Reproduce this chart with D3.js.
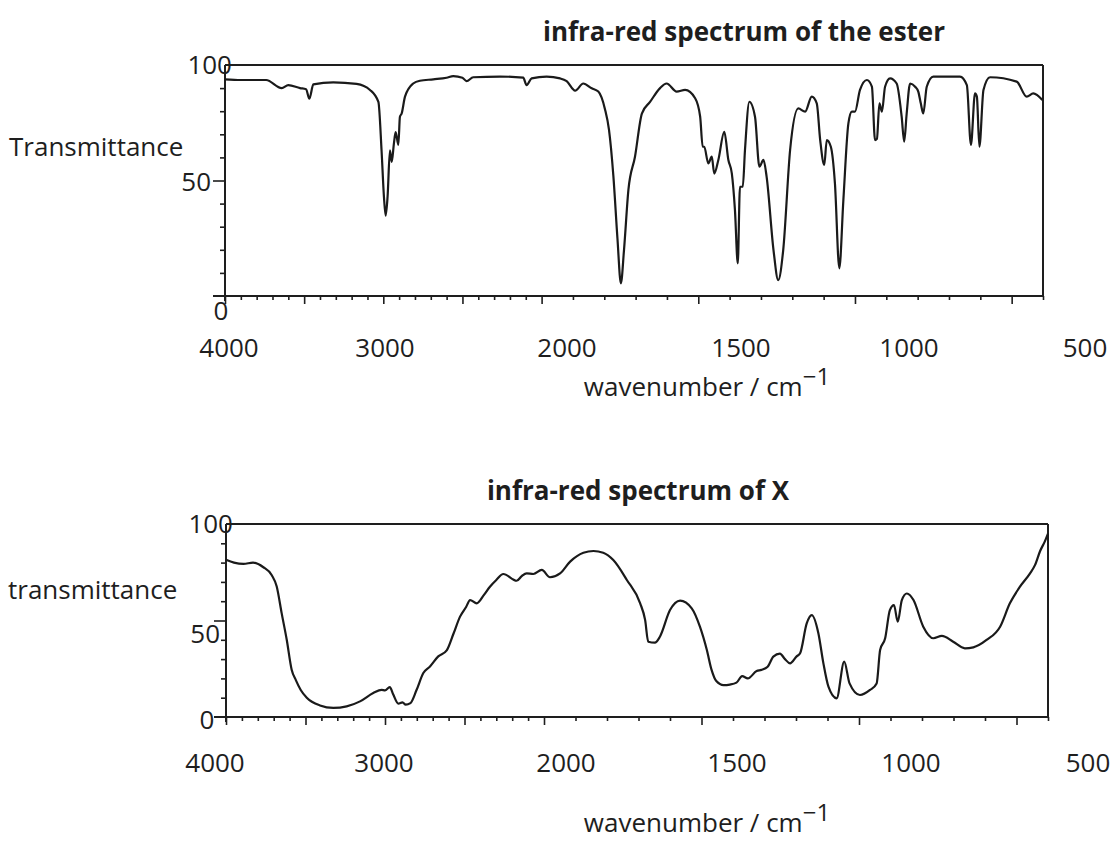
<!DOCTYPE html>
<html>
<head>
  <title>IR spectra</title>
  <script src="https://d3js.org/d3.v7.min.js"></script>
  <style>
    body { margin: 0; background: #fff; }
    text { font-family: "Open Sans", sans-serif; fill: #1e1e1e; }
  </style>
</head>
<body>
<svg width="1112" height="843"></svg>
<script>
  // [wavenumber / cm-1, transmittance]
  const esterSpectrum = [
    [4000, 93.8], [3900, 93.5], [3740, 93.5], [3642, 90], [3600, 91.3], [3526, 90], [3488, 89.5],
    [3467, 85.4], [3442, 91.6], [3316, 92.5], [3169, 91.8], [3084, 89.2], [3031, 84], [3011, 63],
    [2996, 43], [2985, 34.8], [2973, 43], [2958, 63], [2947, 58], [2933, 66], [2922, 71], [2905, 65.4],
    [2895, 77.6], [2884, 79], [2863, 86.3], [2811, 92], [2769, 93.2], [2684, 93.8], [2600, 94.5],
    [2558, 95.2], [2500, 94.5], [2474, 93], [2432, 94.7], [2263, 95], [2116, 94.5], [2095, 91.3],
    [2063, 94.2], [1984, 95], [1941, 94.2], [1920, 93], [1893, 88.9], [1867, 92], [1840, 89.9],
    [1819, 88.5], [1798, 81], [1785, 72], [1771, 52], [1758, 25], [1747, 5.5], [1737, 20], [1723, 45.9],
    [1702, 60.3], [1680, 79], [1654, 84], [1622, 90], [1601, 92], [1569, 88.5], [1542, 89.2],
    [1510, 85.6], [1494, 77.6], [1486, 64.6], [1481, 64.6], [1468, 57.4], [1457, 60.3], [1449, 53],
    [1436, 58.9], [1417, 71.1], [1404, 58.9], [1393, 53.1], [1383, 37.2], [1374, 14.1], [1367, 47.3],
    [1358, 47.3], [1351, 63.2], [1337, 84.1], [1319, 77.6], [1305, 56], [1292, 58.9], [1282, 51.7],
    [1260, 19.9], [1245, 6.9], [1229, 19.9], [1207, 63.2], [1181, 81.2], [1159, 79.8], [1138, 86.3],
    [1122, 83.4], [1111, 67.5], [1098, 56.7], [1090, 67.5], [1077, 64.6], [1064, 48.8], [1050, 12],
    [1037, 41.6], [1021, 74.7], [1010, 79.8], [1000, 79.8], [984, 89.2], [962, 93.5], [946, 90.6],
    [936, 67.5], [930, 68], [922, 83.4], [914, 79.8], [904, 90.6], [888, 94.2], [867, 92], [851, 77.6],
    [843, 66.8], [835, 79], [824, 92], [808, 90.6], [798, 88.5], [790, 83.4], [782, 79], [771, 90.6],
    [750, 95], [665, 95], [643, 91.3], [630, 65.4], [617, 87.7], [611, 86.3], [603, 64.6], [590, 89.2],
    [569, 94.7], [484, 92.8], [452, 86.3], [431, 87.7], [402, 84.8]
  ];

  const xSpectrum = [
    [4000, 81.5], [3950, 80], [3890, 79.3], [3830, 80], [3765, 77.6], [3713, 73.6], [3681, 67.6],
    [3650, 53.8], [3618, 40], [3587, 24.5], [3560, 19], [3530, 14], [3492, 10], [3409, 6], [3325, 4.7],
    [3241, 5.5], [3157, 8.1], [3074, 12.4], [3021, 14.1], [3000, 13.8], [2970, 15.5], [2948, 11.6],
    [2916, 6.9], [2890, 7.6], [2870, 6.4], [2840, 7.2], [2801, 14.1], [2759, 22.8], [2717, 26.2],
    [2665, 31.4], [2612, 34.5], [2570, 43], [2528, 52], [2490, 57], [2465, 60.6], [2423, 58.9],
    [2380, 63], [2340, 67.5], [2300, 71], [2256, 74.1], [2172, 70.6], [2140, 73], [2109, 74.4],
    [2067, 74.1], [2014, 76.2], [1981, 72.4], [1949, 74.4], [1917, 80.5], [1875, 85.1], [1843, 86],
    [1812, 85.1], [1780, 81.3], [1737, 71], [1695, 59], [1679, 50.3], [1669, 39], [1648, 38.5],
    [1632, 41.6], [1600, 55.4], [1568, 60.3], [1531, 56.3], [1505, 46.8], [1483, 34.7], [1468, 24.4],
    [1453, 18.6], [1430, 16.5], [1410, 16.8], [1389, 17.8], [1371, 21.2], [1353, 20], [1325, 23.8],
    [1310, 24.4], [1290, 26], [1272, 31.3], [1251, 32.8], [1235, 30], [1219, 27.8], [1198, 31.4],
    [1187, 33], [1166, 48.5], [1150, 52.8], [1129, 43.4], [1113, 27.8], [1097, 15.7], [1071, 9.7],
    [1047, 28.7], [1030, 17.4], [997, 11.4], [965, 14], [944, 17.4], [933, 34.7], [917, 40.8],
    [902, 55.4], [889, 58], [877, 49.4], [864, 60.6], [848, 64], [827, 60.6], [796, 46.8], [764, 40.8],
    [737, 42], [701, 39], [664, 35.6], [637, 36.1], [595, 39.9], [552, 46.8], [521, 58.9], [489, 67.5],
    [457, 74.4], [441, 78.8], [425, 86], [410, 91], [400, 95]
  ];

  const wavenumberBreaks = [4000, 2000, 400];
  const minorTicks = d3.range(4000, 399, -100);
  const majorTicks = [4000, 3500, 3000, 2500, 2000, 1500, 1000, 500];
  const tickLabels = [4000, 3000, 2000, 1500, 1000, 500];
  const yTicks = d3.range(10, 101, 10);

  const svg = d3.select("svg");

  function drawSpectrum(o) {
    const x = d3.scaleLinear().domain(wavenumberBreaks).range([o.left, o.mid, o.right]);
    const y = d3.scaleLinear().domain([0, 100]).range([o.bottom, o.top]);
    // the typed label row of the original has its own spacing, not the axis one
    const labelX = d3.scaleOrdinal().domain(tickLabels).range(o.labelPos);
    const g = svg.append("g");

    g.append("text")
            .attr("x", o.titleX).attr("y", o.titleY)
            .attr("text-anchor", "middle")
            .attr("font-size", 26).attr("font-weight", "bold")
            .text(o.title);

    // ticks
    g.append("g")
            .attr("transform", "translate(0," + o.bottom + ")")
            .call(d3.axisBottom(x).tickValues(minorTicks.filter(v => !majorTicks.includes(v)))
                    .tickSize(4).tickSizeOuter(0).tickFormat(""))
            .call(a => a.select(".domain").remove());
    g.append("g")
            .attr("transform", "translate(0," + o.bottom + ")")
            .call(d3.axisBottom(x).tickValues(majorTicks).tickSize(8).tickSizeOuter(0).tickFormat(""))
            .call(a => a.select(".domain").remove());
    g.append("g")
            .attr("transform", "translate(" + o.left + ",0)")
            .call(d3.axisLeft(y).tickValues(yTicks.filter(v => v !== 50 && v !== 100))
                    .tickSize(5).tickSizeOuter(0).tickFormat(""))
            .call(a => a.select(".domain").remove());
    g.append("g")
            .attr("transform", "translate(" + o.left + ",0)")
            .call(d3.axisLeft(y).tickValues([50]).tickSize(12).tickSizeOuter(0).tickFormat(""))
            .call(a => a.select(".domain").remove());
    g.selectAll(".tick line").attr("stroke", "#1e1e1e").attr("stroke-width", 1.6);

    // frame
    const frame = [
      [o.left - 12, y(0), o.right, y(0)],
      [o.left, y(0) + 5, o.left, y(100)],
      [o.left, y(100), o.right, y(100)],
      [o.right, y(100), o.right, y(0)]
    ];
    g.selectAll(".frame").data(frame).enter().append("line")
            .attr("x1", d => d[0]).attr("y1", d => d[1])
            .attr("x2", d => d[2]).attr("y2", d => d[3])
            .attr("stroke", "#1e1e1e").attr("stroke-width", 2);

    // spectrum
    const line = d3.line()
            .x(d => x(d[0]))
            .y(d => y(d[1]))
            .curve(d3.curveMonotoneX);
    g.append("path")
            .datum(o.data)
            .attr("d", line)
            .attr("fill", "none")
            .attr("stroke", "#1a1a1a")
            .attr("stroke-width", 2.2)
            .attr("stroke-linejoin", "round");

    // y labels
    g.append("text").attr("x", o.left + 7).attr("y", y(100) + 9)
            .attr("text-anchor", "end").attr("font-size", 26).text("100");
    g.append("text").attr("x", o.fiftyX).attr("y", y(50) + o.fiftyDy)
            .attr("text-anchor", "end").attr("font-size", 26).text("50");
    g.append("text").attr("x", o.zeroX).attr("y", y(0) + o.zeroDy)
            .attr("text-anchor", "middle").attr("font-size", 26).text("0");

    g.append("text").attr("x", o.yTitleX).attr("y", o.yTitleY)
            .attr("font-size", 26).text(o.yTitle);

    // x labels
    g.selectAll(".xlab").data(tickLabels).enter().append("text")
            .attr("x", d => labelX(d)).attr("y", o.labelY)
            .attr("text-anchor", "middle").attr("font-size", 26)
            .text(d => d);

    const xt = g.append("text").attr("x", 707).attr("y", o.xTitleY)
            .attr("text-anchor", "middle").attr("font-size", 26);
    xt.append("tspan").text("wavenumber / cm");
    xt.append("tspan").attr("dy", -11).attr("font-size", 24).text("\u22121");
  }

  drawSpectrum({
    data: esterSpectrum, title: "infra-red spectrum of the ester", titleX: 744, titleY: 41,
    left: 225, mid: 541.6, right: 1043, top: 65, bottom: 296,
    fiftyX: 211, fiftyDy: 10, zeroX: 221, zeroDy: 24,
    yTitle: "Transmittance", yTitleX: 9, yTitleY: 156,
    labelPos: [229, 385, 567, 741, 909, 1085], labelY: 357, xTitleY: 396
  });

  drawSpectrum({
    data: xSpectrum, title: "infra-red spectrum of X", titleX: 638, titleY: 500,
    left: 226, mid: 544, right: 1048, top: 524, bottom: 717,
    fiftyX: 220, fiftyDy: 22, zeroX: 207, zeroDy: 12,
    yTitle: "transmittance", yTitleX: 8, yTitleY: 599,
    labelPos: [215, 384, 566, 737, 911, 1088], labelY: 772, xTitleY: 832
  });
</script>
</body>
</html>
